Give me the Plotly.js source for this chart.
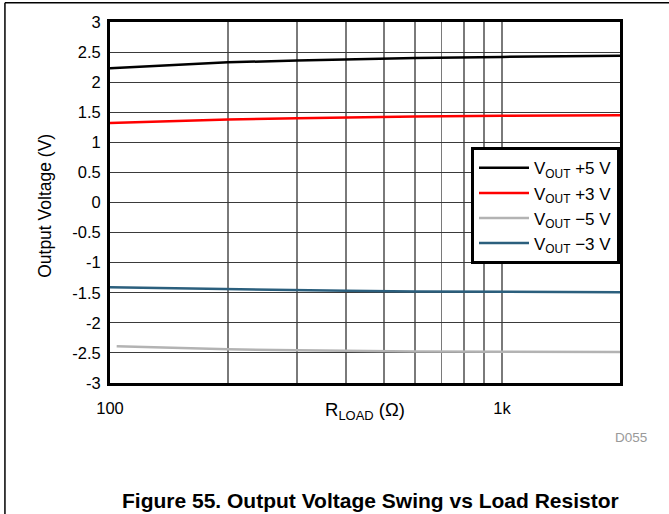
<!DOCTYPE html>
<html>
<head>
<meta charset="utf-8">
<script src="https://cdn.plot.ly/plotly-3.0.1.min.js"></script>
<style>
html,body{margin:0;padding:0;background:#fff;}
#chart{width:669px;height:514px;}
</style>
</head>
<body>
<div id="chart"></div>
<script>
const rLoad5p = [100, 150, 200, 300, 400, 600, 1000, 1500, 2000];
const vout5p  = [2.23, 2.29, 2.33, 2.36, 2.38, 2.40, 2.42, 2.435, 2.44];
const rLoad3p = [100, 150, 200, 300, 400, 600, 1000, 1500, 2000];
const vout3p  = [1.32, 1.36, 1.38, 1.40, 1.415, 1.43, 1.44, 1.445, 1.45];
const rLoad5n = [104, 150, 200, 300, 400, 600, 1000, 1500, 2000];
const vout5n  = [-2.39, -2.42, -2.44, -2.455, -2.465, -2.475, -2.48, -2.485, -2.485];
const rLoad3n = [100, 150, 200, 300, 400, 600, 1000, 1500, 2000];
const vout3n  = [-1.41, -1.43, -1.445, -1.46, -1.468, -1.478, -1.485, -1.49, -1.49];

const seriesNames = ['V<sub>OUT</sub> +5 V', 'V<sub>OUT</sub> +3 V', 'V<sub>OUT</sub> \u22125 V', 'V<sub>OUT</sub> \u22123 V'];
const seriesColors = ['#000000', '#ff0000', '#b3b3b3', '#2b5f7d'];

const xTickVals = [100, 1000];
const xTickText = ['100', '1k'];
const xMinorVals = [200, 300, 400, 500, 600, 700, 800, 900, 2000];
const yTickVals = [-3, -2.5, -2, -1.5, -1, -0.5, 0, 0.5, 1, 1.5, 2, 2.5, 3];
const yTickText = ['-3', '-2.5', '-2', '-1.5', '-1', '-0.5', '0', '0.5', '1', '1.5', '2', '2.5', '3'];

const xs = [rLoad5p, rLoad3p, rLoad5n, rLoad3n];
const ys = [vout5p, vout3p, vout5n, vout3n];
const traces = xs.map((x, i) => ({
  x: x, y: ys[i], type: 'scatter', mode: 'lines', name: seriesNames[i],
  line: {color: seriesColors[i], width: 2.5}
}));

const font = 'Liberation Sans, Arial, sans-serif';
const layout = {
  width: 669, height: 514,
  margin: {l: 110, r: 49, t: 22, b: 131},
  paper_bgcolor: '#fff', plot_bgcolor: '#fff',
  showlegend: true,
  font: {family: font, size: 16, color: '#000'},
  xaxis: {
    type: 'log', range: [2, Math.log10(2000)],
    tickmode: 'array', tickvals: xTickVals, ticktext: xTickText,
    showgrid: true, gridcolor: '#7a7a7a', gridwidth: 1.5,
    ticks: 'outside', ticklen: 8, tickcolor: 'rgba(0,0,0,0)',
    minor: {tickmode: 'array', tickvals: xMinorVals, showgrid: true,
            gridcolor: '#7a7a7a', gridwidth: 1.5, ticks: ''},
    tickfont: {family: font, size: 16.5, color: '#000'},
    showline: true, linecolor: '#000', linewidth: 3, mirror: true,
    zeroline: false
  },
  yaxis: {
    range: [-3, 3],
    tickvals: yTickVals, ticktext: yTickText,
    showgrid: true, gridcolor: '#3a3a3a', gridwidth: 1,
    ticks: 'outside', ticklen: 3, tickcolor: 'rgba(0,0,0,0)',
    tickfont: {family: font, size: 16.5, color: '#000'},
    showline: true, linecolor: '#000', linewidth: 3, mirror: true,
    zeroline: false
  },
  legend: {
    x: 1, xanchor: 'right', y: 0.653, yanchor: 'top',
    bgcolor: '#fff', bordercolor: '#000', borderwidth: 3,
    font: {family: font, size: 17, color: '#000'},
    itemwidth: 50, tracegroupgap: 0
  },
  annotations: [
    {text: 'Output Voltage (V)', textangle: -90, xref: 'paper', yref: 'paper',
     x: -0.128, y: 0.49, xanchor: 'center', yanchor: 'middle', showarrow: false,
     font: {family: font, size: 17.5, color: '#000'}},
    {text: 'R<sub>LOAD</sub> (\u03A9)', xref: 'paper', yref: 'paper',
     x: 0.5, y: -0.078, xanchor: 'center', yanchor: 'middle', showarrow: false,
     font: {family: font, size: 18.5, color: '#000'}},
    {text: 'D055', xref: 'paper', yref: 'paper',
     x: 1.057, y: -0.15, xanchor: 'right', yanchor: 'middle', showarrow: false,
     font: {family: font, size: 13.5, color: '#999'}},
    {text: '<b>Figure 55. Output Voltage Swing vs Load Resistor</b>', xref: 'paper', yref: 'paper',
     x: 0.51, y: -0.326, xanchor: 'center', yanchor: 'middle', showarrow: false,
     font: {family: font, size: 21, color: '#000'}}
  ],
  shapes: [
    {type: 'line', xref: 'paper', yref: 'paper', x0: -0.206, x1: 1.2, y0: 1.053, y1: 1.053,
     line: {color: '#000', width: 1.5}},
    {type: 'line', xref: 'paper', yref: 'paper', x0: -0.206, x1: -0.206, y0: 1.053, y1: -0.4,
     line: {color: '#000', width: 1.5}}
  ]
};

Plotly.newPlot('chart', traces, layout, {displayModeBar: false, staticPlot: true});
</script>
</body>
</html>
